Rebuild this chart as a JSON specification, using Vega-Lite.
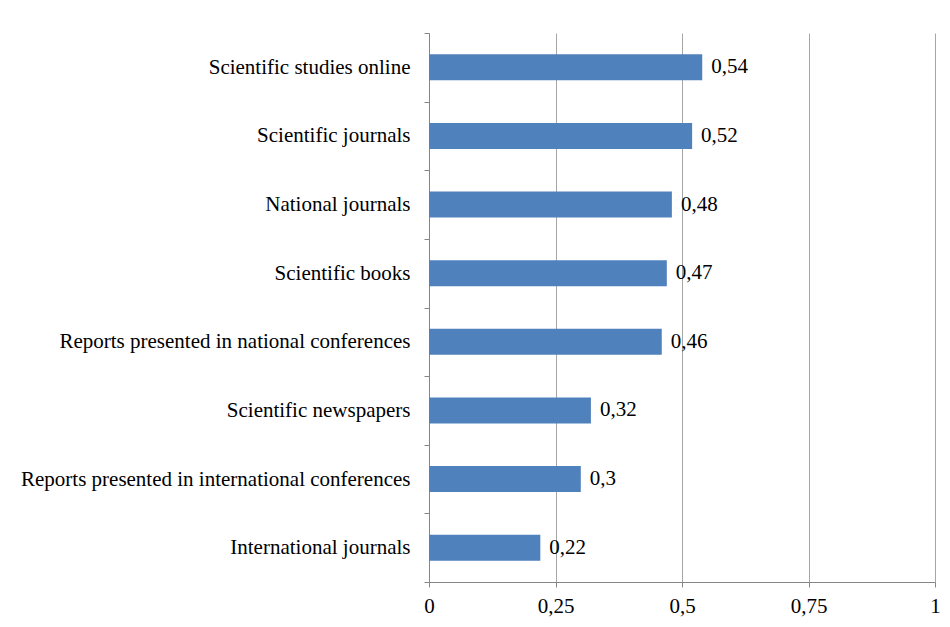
{
  "$schema": "https://vega.github.io/schema/vega-lite/v6.json",
  "autosize": "none",
  "width": 506,
  "height": 549,
  "padding": {"left": 429, "top": 33, "right": 15, "bottom": 45},
  "background": "white",
  "data": {
    "values": [
      {"source": "Scientific studies online", "share": 0.54},
      {"source": "Scientific journals", "share": 0.52},
      {"source": "National journals", "share": 0.48},
      {"source": "Scientific books", "share": 0.47},
      {"source": "Reports presented in national conferences", "share": 0.46},
      {"source": "Scientific newspapers", "share": 0.32},
      {"source": "Reports presented in international conferences", "share": 0.3},
      {"source": "International journals", "share": 0.22}
    ]
  },
  "encoding": {
    "y": {
      "field": "source",
      "type": "nominal",
      "sort": null,
      "title": null,
      "scale": {"paddingInner": 0, "paddingOuter": 0},
      "axis": {
        "tickBand": "extent",
        "grid": false,
        "labelPadding": 14,
        "tickSize": 5,
        "labelLimit": 500
      }
    },
    "x": {
      "field": "share",
      "type": "quantitative",
      "title": null,
      "scale": {"domain": [0, 1], "nice": false},
      "axis": {"values": [0, 0.25, 0.5, 0.75, 1], "format": ".2~f", "tickSize": 5, "labelPadding": 8, "labelFlush": false}
    }
  },
  "layer": [
    {"mark": {"type": "bar", "color": "#4F81BD", "height": {"band": 0.38}}},
    {
      "mark": {"type": "text", "align": "left", "baseline": "middle", "dx": 9, "font": "Liberation Serif", "fontSize": 21, "color": "black"},
      "encoding": {"text": {"field": "share", "type": "quantitative", "format": ".2~f"}}
    }
  ],
  "config": {
    "locale": {
      "number": {"decimal": ",", "thousands": ".", "grouping": [3], "currency": ["", " €"]}
    },
    "view": {"stroke": null},
    "axis": {
      "labelFont": "Liberation Serif",
      "labelFontSize": 21,
      "labelColor": "black",
      "domainColor": "#868686",
      "tickColor": "#868686",
      "gridColor": "#A6A6A6",
      "gridWidth": 1
    }
  }
}
